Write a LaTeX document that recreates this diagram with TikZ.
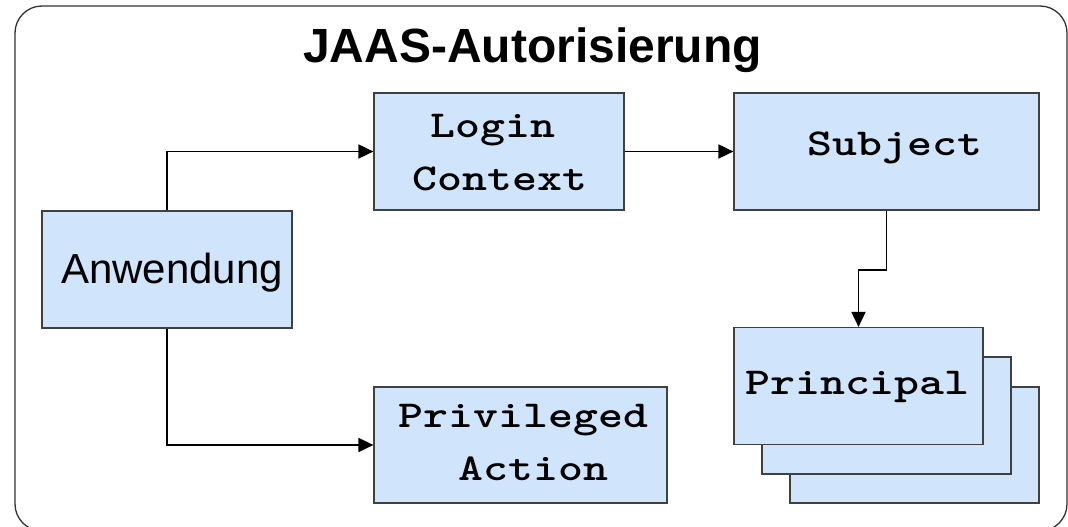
\documentclass[tikz,border=0pt]{standalone}
\usepackage{fontspec}
\setmainfont{Liberation Sans}
\usetikzlibrary{arrows.meta}
\definecolor{boxfill}{RGB}{208,228,252}
\definecolor{boxline}{RGB}{64,64,64}
\definecolor{frameline}{RGB}{50,50,50}
\newcommand{\codetext}[1]{\scalebox{1.25}[1]{#1}}
\tikzset{
  block/.style={draw=boxline, fill=boxfill, line width=1.2pt, inner sep=0pt, minimum height=117pt},
  code/.style={font=\ttfamily\bfseries\fontsize{38}{46}\selectfont, inner sep=0pt, anchor=base},
  plain/.style={font=\fontsize{42}{50}\selectfont, inner sep=0pt, anchor=base},
  flow/.style={draw=black, line width=1.8pt, -{Triangle[length=15pt,width=14pt]}}
}
\begin{document}
\begin{tikzpicture}[x=1pt, y=-1pt]
\useasboundingbox (0,0) rectangle (1068,527);
\fill[white] (0,0) rectangle (1068,527);
% outer frame
\draw[frameline, line width=1.3pt, rounded corners=27pt] (15,6) rectangle (1067,531);
% title
\node[font=\bfseries\fontsize{48}{57}\selectfont, inner sep=0pt, anchor=base] (title) at (532.5,63) {JAAS-Autorisierung};
% boxes
\node[block, minimum width=250pt] (anw) at (167,269.5) {};
\node[block, minimum width=250pt] (login) at (499,151.5) {};
\node[block, minimum width=305pt] (subj) at (886.5,151.5) {};
\node[block, minimum width=293pt, minimum height=116pt] (priv) at (520.5,445) {};
\node[block, minimum width=249pt, minimum height=116pt] (p3) at (914.5,445) {};
\node[block, minimum width=249pt] (p2) at (886.5,415.5) {};
\node[block, minimum width=249pt] (p1) at (858.5,386) {};
% labels
\node[plain] (anwtext) at (172,283) {Anwendung};
\node[code] (logintext1) at (493,137) {\codetext{Login}};
\node[code] (logintext2) at (500,190) {\codetext{Context}};
\node[code] (subjtext) at (895,155) {\codetext{Subject}};
\node[code] (privtext1) at (523.5,427) {\codetext{Privileged}};
\node[code] (privtext2) at (533.5,480) {\codetext{Action}};
\node[code] (p1text) at (857.5,394) {\codetext{Principal}};
% connectors
\draw[flow] (anw.north) |- (login.west);
\draw[flow] (anw.south) |- (priv.west);
\draw[flow] (login.east) -- (subj.west);
\draw[flow] (subj.south) -- ++(0,59) -| (p1.north);
\end{tikzpicture}
\end{document}
